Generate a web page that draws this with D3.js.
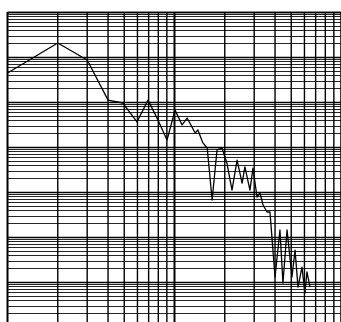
<!DOCTYPE html>
<html>
<head>
<meta charset="utf-8">
<script src="https://cdn.jsdelivr.net/npm/d3@7"></script>
<style>
  html, body { margin: 0; padding: 0; background: #fff; }
  svg { display: block; }
</style>
</head>
<body>
<div id="chart"></div>
<script>
// log-log response trace
const freq = [1.0, 2.0, 3.0, 4.0, 4.9, 5.96, 6.94, 7.96, 9.02, 10.07, 11.1, 11.9, 13.3, 13.8,
  14.8, 15.7, 16.8, 17.97, 19.25, 20.6, 22.1, 23.7, 25.4, 26.4, 28.3, 29.5, 31.2, 32.5, 33.9,
  35.8, 37.3, 40.0, 42.8, 44.6, 47.2, 50.5, 52.7, 54.9, 58.0, 60.4, 62.1, 64.8];
const level = [4.4e5, 2.05e6, 8.6e5, 1.1e5, 9.5e4, 3.6e4, 1.1e5, 4.0e4, 1.43e4, 6.6e4, 3.1e4, 4.4e4,
  2.05e4, 2.4e4, 1.23e4, 9.5e3, 664, 8.6e3, 9.5e3, 4.4e3, 1.1e3, 5.1e3, 1.58e3, 3.6e3, 1.1e3, 3.4e3,
  774, 950, 514, 359, 359, 12.9, 143, 9.5, 143, 12.9, 51, 7.7, 21.5, 5.7, 16.7, 7.7];
const xDomain = [1, 100];
const yDomain = [1, 1e7];

const W = 341, H = 322;
const margin = {top: 12, left: 7.5};
const width = 334, height = 315;

const svg = d3.select("#chart").append("svg")
    .attr("width", W)
    .attr("height", H)
    .append("g")
    .attr("transform", `translate(${margin.left},${margin.top})`);

const x = d3.scaleLog().domain(xDomain).range([0, width]);
const y = d3.scaleLog().domain(yDomain).range([height, 0]);

// grid values: every 1..9 step of each decade
const logTicks = (lo, hi) => {
  const out = [];
  for (let p = Math.log10(lo); p <= Math.log10(hi); p++) {
    for (let m = 1; m < 10; m++) {
      const v = m * Math.pow(10, p);
      if (v <= hi) out.push({v, major: m === 1});
    }
  }
  out.push({v: hi, major: true});
  return out;
};

svg.append("g").selectAll("line")
    .data(logTicks(yDomain[0], yDomain[1]))
    .join("line")
    .attr("x1", 0).attr("x2", width)
    .attr("y1", d => Math.round(y(d.v)) + 0.5)
    .attr("y2", d => Math.round(y(d.v)) + 0.5)
    .style("stroke", "#000")
    .style("stroke-width", d => d.major ? 1.6 : 1)
    .style("stroke-opacity", d => d.major ? 1 : 0.85);

svg.append("g").selectAll("line")
    .data(logTicks(xDomain[0], xDomain[1]))
    .join("line")
    .attr("x1", d => x(d.v)).attr("x2", d => x(d.v))
    .attr("y1", 0).attr("y2", height)
    .style("stroke", "#000")
    .style("stroke-width", d => d.major ? 2 : 1.4);

const line = d3.line()
    .x((d, i) => x(freq[i]))
    .y(d => y(d));

svg.append("path")
    .datum(level)
    .attr("d", line)
    .style("fill", "none")
    .style("stroke", "#000")
    .style("stroke-width", 1.3)
    .style("stroke-linejoin", "round");
</script>
</body>
</html>
